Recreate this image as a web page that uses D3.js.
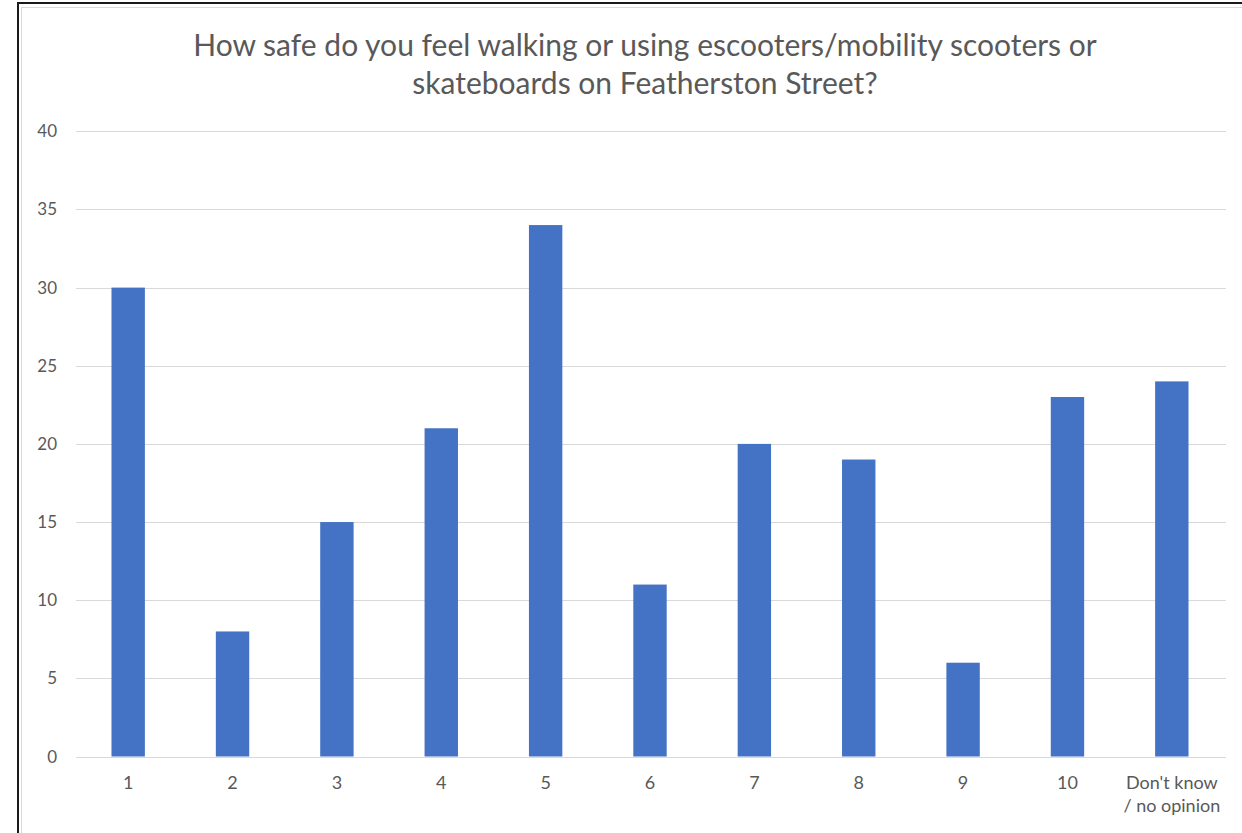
<!DOCTYPE html>
<html><head><meta charset="utf-8">
<script src="https://cdn.jsdelivr.net/npm/d3@7"></script>
<style>
html,body{margin:0;padding:0;background:#fff;overflow:hidden;}
svg{display:block;}
text{font-family:Lato,"Open Sans",sans-serif;fill:#595959;}
</style></head>
<body>
<svg id="c" width="1242" height="833"></svg>
<script>
const categories = ["1","2","3","4","5","6","7","8","9","10","Don't know / no opinion"];
const values = [30, 8, 15, 21, 34, 11, 20, 19, 6, 23, 24];
const yTicks = [0,5,10,15,20,25,30,35,40];
const titleLines = ["How safe do you feel walking or using escooters/mobility scooters or","skateboards on Featherston Street?"];

const svg = d3.select("#c");
// frame
svg.append("rect").attr("x",18).attr("y",3).attr("width",1240).attr("height",840)
  .attr("fill","#fff").attr("stroke","#1a1a1a").attr("stroke-width",2);
svg.append("rect").attr("x",21.5).attr("y",7.5).attr("width",1240).attr("height",840)
  .attr("fill","none").attr("stroke","#d9d9d9").attr("stroke-width",1);

const x = d3.scaleBand().domain(categories).range([76,1224]).paddingInner(0.68).paddingOuter(0.34);
const y = d3.scaleLinear().domain([0,40]).range([756.5,131.3]);

// gridlines
svg.append("g").selectAll("line").data(yTicks).join("line")
  .attr("x1",76).attr("x2",1226)
  .attr("y1",d=>Math.round(y(d))+0.5).attr("y2",d=>Math.round(y(d))+0.5)
  .attr("stroke","#d9d9d9").attr("stroke-width",1);

// y labels
svg.append("g").selectAll("text").data(yTicks).join("text")
  .attr("x",57).attr("y",d=>y(d)+6).attr("text-anchor","end")
  .style("font-size","17px").text(d=>d);

// bars
svg.append("g").selectAll("rect").data(values).join("rect")
  .attr("x",(d,i)=>x(categories[i])).attr("width",x.bandwidth())
  .attr("y",d=>y(d)).attr("height",d=>y(0)-y(d))
  .attr("fill","#4472C4");

// x labels
const xl = svg.append("g").selectAll("text").data(categories).join("text")
  .attr("text-anchor","middle").style("font-size","18px")
  .attr("transform",d=>`translate(${x(d)+x.bandwidth()/2},789)`);
xl.each(function(d){
  const t = d3.select(this);
  const parts = d.includes(" / ") ? ["Don't know","/ no opinion"] : [d];
  parts.forEach((p,i)=>t.append("tspan").attr("x",0).attr("dy",i?23:0).text(p));
});

// title
svg.append("g").selectAll("text").data(titleLines).join("text")
  .attr("x",645).attr("y",(d,i)=>56+i*38).attr("text-anchor","middle")
  .style("font-size","30px").text(d=>d);
</script>
</body></html>
